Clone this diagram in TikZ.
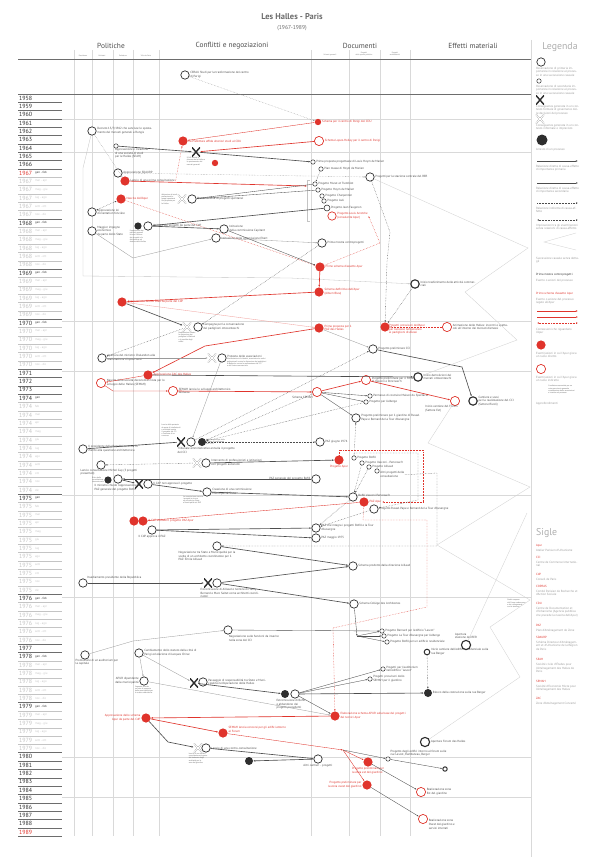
\documentclass[tikz,border=0pt]{standalone}
\usepackage{fontspec}
\setmainfont{PT Sans}
\usepackage{tikz}
\usetikzlibrary{arrows.meta,positioning,calc}
\definecolor{hInk}{HTML}{2E2E2E}
\definecolor{hRed}{HTML}{E0342C}
\definecolor{hGrid}{HTML}{D9D9D9}
\definecolor{hGray}{HTML}{9A9A9A}
\definecolor{hLight}{HTML}{C4C4C4}
\definecolor{hTitle}{HTML}{6B6B6B}
\newcommand\hlfont{\fontsize{4.3}{5.1}\selectfont}
\newcommand\hnfont{\fontsize{2.7}{3.1}\selectfont}
\newcommand\bimestri{gen - feb,mar - apr,mag - giu,lug - ago,sett - ott,nov - dic}
\newcommand\mesi{gen,feb,mar,apr,mag,giu,lug,ago,sett,ott,nov,dic}
\tikzset{
  % Observation circles
  obs/.style={circle,draw=hInk,line width=1pt,fill=white,
    minimum size=0.42cm,inner sep=0pt},
  obsm/.style={obs,minimum size=0.3cm,line width=0.8pt},
  obss/.style={obs,minimum size=0.22cm,line width=0.7pt},
  obsb/.style={obs,line width=1.6pt},
  % Apur circles (filled = direct, open = indirect)
  rfull/.style={circle,fill=hRed,minimum size=0.46cm,inner sep=0pt},
  rfulls/.style={rfull,minimum size=0.32cm},
  ropen/.style={circle,draw=hRed,line width=1pt,fill=white,
    minimum size=0.46cm,inner sep=0pt},
  % Stop of a process
  stopc/.style={circle,fill=hInk,minimum size=0.4cm,inner sep=0pt},
  % Formal X and informal X
  xf/.style={minimum width=0.4cm,minimum height=0.46cm,inner sep=0pt,
    path picture={\draw[line width=2pt,hInk]
      (path picture bounding box.north west) -- (path picture bounding box.south east)
      (path picture bounding box.south west) -- (path picture bounding box.north east);}},
  xi/.style={minimum width=0.42cm,minimum height=0.46cm,inner sep=0pt,
    path picture={\draw[hInk!55,line width=0.35pt,double=white,double distance=1.3pt]
      (path picture bounding box.north west) -- (path picture bounding box.south east)
      (path picture bounding box.south west) -- (path picture bounding box.north east);}},
  % Texts
  lbl/.style={font=\hlfont,text=hInk!85,align=left,inner sep=1pt},
  rlbl/.style={lbl,text=hRed},
  note/.style={font=\hnfont,text=hInk!75,align=left,inner sep=0.5pt},
  legt/.style={font=\hlfont,text=hGray,align=left,inner sep=0pt,anchor=north west},
  hdr/.style={font=\fontsize{10.5}{11}\selectfont,text=hInk!85},
  subh/.style={font=\fontsize{2.6}{3}\selectfont,text=hInk!70,align=center,inner sep=0pt},
  big/.style={font=\fontsize{14}{14}\selectfont,text=hGray!80,anchor=west,inner sep=0pt},
  yrnum/.style={font=\fontsize{8.5}{8.5}\selectfont,anchor=west,inner sep=0pt},
  yrmon/.style={font=\hlfont,anchor=west,inner sep=0pt},
  yrline/.style={hInk!70,line width=0.6pt},
  yrthin/.style={hLight,line width=0.35pt},
  % Arrows
  arr/.style={-{Latex[length=3pt,width=2.4pt]},line width=0.9pt,hInk!85},
  arrs/.style={-{Latex[length=2.6pt,width=2pt]},line width=0.5pt,hInk!85},
  darr/.style={arrs,dash pattern=on 0.8pt off 1.4pt},
  darrb/.style={darr,{Latex[length=2.6pt,width=2pt]}-{Latex[length=2.6pt,width=2pt]}},
  garr/.style={arrs,hGray,line width=0.45pt},
  gln/.style={hLight,line width=0.45pt},
  rarr/.style={arr,hRed},
  rarrs/.style={arrs,hRed},
  rdarr/.style={darr,hRed},
  zz/.style={hLight!80,line width=0.45pt},
}

\begin{document}
\begin{tikzpicture}[x=0.05cm,y=-0.05cm]
  \useasboundingbox (0,0) rectangle (600,857);
  \fill[white] (0,0) rectangle (600,857);

  % titles
  \node[font=\fontsize{12}{12}\selectfont\bfseries,text=hTitle] (ttl) at (292,17) {Les Halles - Paris};
  \node[font=\fontsize{8}{8}\selectfont,text=hTitle] (ttl2) at (292,28) {(1967-1989)};
  \node[hdr] (hPol) at (111,46) {Politiche};
  \node[hdr] (hCon) at (232,46) {Conflitti e negoziazioni};
  \node[hdr] (hDoc) at (360,46) {Documenti};
  \node[hdr] (hEff) at (473,46) {Effetti materiali};
  \node[big,anchor=center] (hLeg) at (560,47) {Legenda};
  \node[subh] (shPres) at (83,55.5) {Presidenza};
  \node[subh] (shMin) at (102,55.5) {Ministeri};
  \node[subh] (shPref) at (123,55.5) {Prefettura};
  \node[subh] (shVdP) at (146,55.5) {Ville de Paris};
  \node[subh] (shSch) at (330,55.5) {Schemi generali};
  \node[subh] (shPub) at (364,54) {Progetti\\dello spazio pubblico};
  \node[subh] (shArc) at (395,54) {Progetti\\architettonici};

  % grid
  \foreach \gx in {74,92,113,133,159,311,349,380,410}
    \draw[hGrid,line width=0.5pt] (\gx,50) -- (\gx,836);
  \foreach \gy in {119,152,321,371,495,597,757,797}
    \draw[hGrid,line width=0.6pt] (62,\gy) -- (531,\gy);
  \draw[hGrid,line width=0.5pt] (531,40) -- (531,857);
  \draw[hInk!70,line width=0.9pt] (18,59) -- (531,59);
  \draw[hInk!70,line width=0.6pt] (18,94) -- (531,94);

  % years
  \foreach \yr/\st in {1958/0,1959/1,1960/2,1961/3,1962/4,1963/5,1964/6,1965/7,1966/8,
      1971/33,1972/34,1973/35,1977/66,1980/79,1981/80,1982/81,1983/82,1984/83,
      1985/84,1986/85,1987/86,1988/87}{
    \pgfmathsetmacro\yy{98+\st*8.34}
    \node[yrnum,text=hInk] (y\yr) at (19,\yy) {\yr};
    \draw[yrline] (18,\yy+4.17) -- (62,\yy+4.17);
  }
  \node[yrnum,text=hRed] (y1989) at (19,832) {1989};
  \draw[yrline] (18,836.2) -- (62,836.2);
  \foreach \yr/\st in {1967/9,1968/15,1969/21,1970/27,1976/60,1978/67,1979/73}{
    \foreach \m [count=\k from 0] in \bimestri {
      \pgfmathsetmacro\yy{98+(\st+\k)*8.34}
      \ifnum\k=0 \def\yc{hInk}\def\mc{hInk}\else\def\yc{hLight}\def\mc{hLight}\fi
      \ifnum\yr=1967 \ifnum\k=0 \def\yc{hRed}\fi\fi
      \node[yrnum,text=\yc] (r\yr-\k) at (19,\yy) {\yr};
      \node[yrmon,text=\mc] (m\yr-\k) at (35,\yy) {\m};
      \ifnum\k=5 \draw[yrline] (18,\yy+4.17) -- (62,\yy+4.17);
      \else \draw[yrthin] (18,\yy+4.17) -- (62,\yy+4.17); \fi
    }
  }
  \foreach \yr/\st in {1974/36,1975/48}{
    \foreach \m [count=\k from 0] in \mesi {
      \pgfmathsetmacro\yy{98+(\st+\k)*8.34}
      \ifnum\k=0 \def\yc{hInk}\else\def\yc{hLight}\fi
      \node[yrnum,text=\yc] (r\yr-\k) at (19,\yy) {\yr};
      \node[yrmon,text=\yc] (m\yr-\k) at (35,\yy) {\m};
      \ifnum\k=11 \draw[yrline] (18,\yy+4.17) -- (62,\yy+4.17);
      \else \draw[yrthin] (18,\yy+4.17) -- (62,\yy+4.17); \fi
    }
  }

  % ---- politiche, conflitti 1958-1970
  \node[obs,label={[lbl]right:{CERAU Studi per la trasformazione del centro\\di Parigi}}] (cerau) at (185,75) {};
  \node[obs,label={[lbl]right:{Decreto 13/7/1962 che sancisce lo sposta-\\mento dei mercati generali a Rungis}}] (decreto) at (92,131) {};
  \node[obss,label={[lbl,anchor=north west]south west:{Approvazione e creazione\\di una società di studi\\per le Halles (SEAH)}}] (seah) at (116,146) {};
  \node[rfull,label={[rlbl]right:{La Prefettura affida ulteriori studi al CDU}}] (pref) at (183,141) {};
  \node[xf,label={[note,anchor=north]south:{Il CdP decide la\\chiusura de le Halles e\\lo spostamento dei\\mercati generali}}] (x1) at (196,152) {};
  \node[rfulls] (r1) at (215,163) {};
  \node[obs,label={[lbl]right:{Approvazione SDAURP}}] (sdaurp) at (118,173) {};
  \node[rfull,label={[lbl,name=lancioT]right:{Lancio di una prima consultazione}}] (lancio) at (125,181) {};
  \node[rfull,label={[rlbl]right:{Nascita dell'Apur}}] (apur) at (121,199) {};
  \node[obs,label={[lbl]right:{Approvazione loi\\d'orientation foncière}}] (loi) at (92,212) {};
  \node[xi,label={[note,anchor=east]west:{Attivazione di studi\\professionali e\\gruppi spontanei\\con proposte per\\le Halles}}] (xi1) at (182,199) {};
  \node[obs,label={[lbl]right:{Presentazione di progetti spontanei}}] (pres1) at (192,199) {};
  \node[obs,label={[lbl]right:{Maggior impegno\\economico\\da parte dello Stato}}] (maggior) at (92,231) {};
  \node[stopc,minimum size=0.36cm,label={[note,anchor=north]south:{L'opposizione dei\\mercati generali\\blocca l'utilizzo\\dei progetti e la\\discussione sul\\destino delle Halles}}] (stop1) at (138,226) {};
  \node[obs,label={[lbl]right:{Utilizzo dei progetti da parte del CdP}}] (util) at (148,226) {};
  \node[obs,label={[lbl]right:{Istituzione\\della commissione Capitant}}] (capitant) at (224,229) {};
  \node[obs,label={[lbl]right:{Istituzione della commissione Ebert}}] (ebert) at (216,238) {};

  % ---- documenti 1958-1970
  \node[rfulls,label={[rlbl]right:{Schema per il centro di Parigi del CDU}}] (cdu) at (318,122) {};
  \node[ropen,label={[rlbl]right:{Schema Lopez-Holley per il centro di Parigi}}] (lopez) at (319,141) {};
  \node[obss,label={[lbl]right:{Prima proposta progettuale di Louis Hoym de Marien}}] (p1) at (313,162) {};
  \node[obss,label={[lbl]right:{Plan masse di Hoym de Marien}}] (p2) at (321,169) {};
  \node[obs,label={[lbl]right:{Progetti per la stazione centrale del RER}}] (rer) at (370,177) {};
  \node[obss,label={[lbl]right:{Progetto Murat et Tremblot}}] (pm) at (315,184) {};
  \node[obss,label={[lbl]right:{Progetto Hoym de Marien}}] (ph) at (318,190) {};
  \node[obss,label={[lbl]right:{Progetto Charpentier}}] (pc) at (322,196) {};
  \node[obss,label={[lbl]right:{Progetto Auli}}] (pa) at (324,201) {};
  \node[obsm,label={[lbl]right:{Progetto Jean Faugeron}}] (pf) at (327,208) {};
  \node[ropen,minimum size=0.42cm,label={[rlbl,name=parrT]right:{Progetto Louis Arretche\\(consulente Apur)}}] (parr) at (332,216) {};
  \coordinate (brk) at (307,186);
  \node[obs,label={[lbl]right:{Prima mostra controprogetti}}] (mostra) at (322,243) {};
  \node[rfull,label={[rlbl]right:{Primo schema d'assetto Apur}}] (primo) at (320,267) {};
  \node[rfull,label={[rlbl]right:{Schema definitivo dell'Apur\\(Album Bleu)}}] (albumdef) at (319,292) {};
  \node[obsb,label={[lbl]right:{Inizio trasferimento delle attività commer-\\ciali}}] (trasf) at (415,284) {};
  \node[rfull,label={[rlbl]right:{Prima proposta per il\\PAZ des Halles}}] (paz1) at (319,328) {};
  \node[rfull,label={[rlbl,anchor=north west]north east:{Progetti provvisori dell'Apur\\per l'accesso temporaneo\\ai padiglioni dismessi}}] (provv) at (385,327) {};
  \node[ropen,label={[lbl]right:{Animazione delle Halles: incontri e spetta-\\coli all'interno dei mercati dismessi}}] (anim) at (447,327) {};
  \node[obs,label={[lbl]right:{Progetto preliminare CCI}}] (cci) at (373,349) {};
  \node[obsb,label={[lbl]right:{Inizio demolizioni dei\\mercati ottocenteschi}}] (demol) at (418,377) {};
  \node[obsb,label={[lbl]right:{Cantiere e scavi\\per la realizzazione del CCI\\(Settore Rivoli)}}] (scavi) at (473,401) {};

  % ---- 1970-1974
  \node[rfull,label={[rlbl]right:{Approvazione Album Bleu da parte del CdP}}] (album) at (122,302) {};
  \node[xi,label={[note,anchor=north]south:{Mobilitazione contro\\la distruzione dei\\padiglioni di Baltard\\e la vendita degli\\edifici}}] (xi2) at (187,327) {};
  \node[obs,label={[lbl]right:{Campagna per la conservazione\\dei padiglioni ottocenteschi}}] (camp) at (198,327) {};
  \node[obs,label={[lbl]right:{Apertura del ministro Chalandon alla\\realizzazione di spazi verdi}}] (chal) at (102,358) {};
  \node[xi] (xi3) at (212,358) {};
  \node[obs,label={[lbl,anchor=south west]east:{Protesta delle associazioni}},
    label={[note,anchor=north west]east:{Manifestazioni di cittadini, associazioni e ordini\\professionali contro la distruzione dei padiglioni\\di Baltard e contro la realizzazione del CCI\\e del Centro commerciale}}] (prot) at (222,358) {};
  \node[rfull,label={[rlbl]right:{Approvazione ZAC des Halles}}] (zac) at (148,375) {};
  \node[ropen,label={[lbl]right:{Nascita della società d'economia mista per lo\\sviluppo delle Halles (SEMAH)}}] (semah) at (101,383) {};
  \node[ropen,label={[lbl]right:{SEMAH lancia lo sviluppo architettonico\\dell'area}}] (semahl) at (173,391) {};
  \node[ropen,label={[lbl,anchor=north east]south west:{Schema SEMAH}}] (semahs) at (317,392) {};
  \node[ropen,label={[lbl]right:{Progetto preliminare per il Forum\\di Vasconi e Pencreac'h}}] (forum) at (366,380) {};
  \node[ropen,label={[lbl,anchor=north east]south east:{Inizio cantiere del Forum\\(Settore Est)}}] (forumc) at (455,401) {};
  \node[obss,label={[lbl]right:{Permesso di costruire Maison du Spectacle}}] (perm) at (370,396) {};
  \node[obss,label={[lbl]right:{Progetto per l'albergo}}] (alb) at (366,402) {};
  \node[obs,label={[lbl]right:{Progetto preliminare per il giardino di Russel\\Pape e Bernard de la Tour d'Auvergne}}] (giard) at (356,418) {};
  \node[obs,label={[lbl]right:{PAZ giugno 1974}}] (paz74) at (320,442) {};
  \node[xf,label={[lbl,anchor=north west]south west:{Tribunale amministrativo annulla il progetto\\del CCI}},
    label={[note,anchor=south east]north:{Lancio della protesta\\da parte di intellettuali\\e architetti contro\\il progetto del CCI\\e l'assenza di un\\concorso}}] (x3) at (181,442) {};
  \node[obs] (trib) at (191,442) {};
  \node[stopc,label={[note]right:{Nessuna proroga della\\licenza di costruzione\\per il CCI}}] (stop2) at (202,442) {};
  \node[obs,label={[lbl]right:{Il presidente della Repubblica entra in\\merito alla questione architettonica}}] (pres) at (83,449) {};

  % ---- 1975-1976
  \node[xi] (xi4) at (197,463) {};
  \node[obs,label={[lbl]right:{Intervento di professionisti e istituzioni\\con progetti autonomi}}] (interv) at (206,463) {};
  \node[obs,label={[lbl,anchor=north west,xshift=-0.9cm]south west:{Lancio consultazione Michel Guy (3 progetti\\presentati)}}] (guy) at (101,465) {};
  \node[stopc,minimum size=0.36cm,label={[note,anchor=east]west:{Ritiro della\\consultazione\\internazionale}}] (stop3) at (108,480) {};
  \node[obs,label={[lbl,anchor=north]south:{Il ministro chiede l'approvazione del\\PAZ generale del progetto Bofill}}] (chiede) at (118,479) {};
  \node[xf] (x4) at (139,484) {};
  \node[obs,label={[lbl]right:{Il CdP non approva il progetto}}] (nonapp) at (148,484) {};
  \node[obs,label={[lbl]right:{Creazione di una commissione\\Municipalità-Stato}},
    label={[note,anchor=north east]south west:{La commissione esamina\\i progetti e ricerca\\un accordo tra Stato\\e Municipalità sul PAZ}}] (commis) at (207,492) {};
  \node[rfull] (escl1) at (134,521) {};
  \node[rfull,label={[rlbl]right:{Il CdP esclude il progetto PAZ Apur}}] (escl2) at (143,521) {};
  \node[obs,label={[lbl,anchor=north]south:{Il CdP approva il PAZ}}] (approva) at (152,530) {};
  \node[obs,label={[lbl,anchor=north,xshift=-0.5cm]south:{Negoziazione tra Stato e Municipalità per la\\scelta di un architetto coordinatore per il\\PAZ: Émile Aillaud}}] (negoz) at (217,546) {};
  \node[obs,label={[lbl,anchor=south west]north east:{Insediamento presidente della Repubblica}}] (insed) at (83,583) {};
  \node[xf,label={[lbl,anchor=north west,xshift=-0.2cm]south west:{Estromissione di Aillaud e nomina di Henry\\Bernard e Marc Saltet come architetti coordi-\\natori}}] (x5) at (208,583) {};
  \node[obs] (estr) at (217,583) {};

  \node[rfull,label={[rlbl,anchor=north]south:{Progetto Apur}}] (papur) at (339,460) {};
  \node[obss,label={[lbl]right:{Progetto Bofill}}] (pb1) at (354,458) {};
  \node[obss,label={[lbl]right:{Progetto Vasconi - Pencreac'h}}] (pb2) at (362,463) {};
  \node[obss,label={[lbl]right:{Progetto Aillaud}}] (pb3) at (369,467) {};
  \node[obss,label={[lbl,name=pb4T,anchor=north west]east:{Altri progetti della\\consultazione}}] (pb4) at (377,471) {};
  \node[obs,label={[lbl]left:{PAZ generale del progetto Bofill}}] (pazbof) at (316,479) {};
  \node[obs,label={[lbl,anchor=south west]east:{Bofill Vasconi Pencreac'h}}] (bvp) at (353,497) {};
  \node[rfull,label={[rlbl,name=pazapurT]right:{PAZ Apur}}] (pazapur) at (364,502) {};
  \node[obs,label={[lbl]right:{Progetto Russel Pape e Bernard de la Tour d'Auvergne}}] (rus) at (374,509) {};
  \node[obs,label={[lbl]right:{PAZ che integra i progetti Bofill e la Tour\\d'Auvergne}}] (pazint) at (316,528) {};
  \node[obs,label={[lbl]right:{PAZ maggio 1975}}] (paz75) at (316,538) {};
  \node[obs,label={[lbl]right:{Schema prodotto dalla direzione Aillaud}}] (aill) at (353,566) {};
  \node[obs,label={[lbl]right:{Schema Collège des Architectes}}] (coll) at (354,604) {};
  \coordinate (collj) at (357,636);

  % ---- 1977-1989
  \node[obs,label={[lbl,anchor=north west]south:{Negoziazione sulle funzioni da inserire\\nella zona del CCI}}] (funz) at (228,630) {};
  \node[obs,label={[lbl,anchor=north west,xshift=-0.35cm]south west:{Promozione di un auditorium per\\la capitale}}] (audit) at (85,655) {};
  \node[obs,label={[lbl]right:{Cambiamento dello statuto della città di\\Parigi ed elezione di Jacques Chirac}}] (statuto) at (139,653) {};
  \node[obs,label={[lbl,align=right]left:{APUR dipendente\\dalla municipalità}},
    label={[note,anchor=north]south:{L'agenzia diventa\\un ente di supporto\\della municipalità per\\le scelte urbanistiche}}] (apurdip) at (144,681) {};
  \node[xf] (x6) at (194,683) {};
  \node[obs,label={[lbl]right:{Passaggio di responsabilità tra Stato e Muni-\\cipalità nell'operazione delle Halles}}] (pass) at (203,682) {};
  \node[stopc] (stop4) at (285,694) {};
  \node[obs,label={[lbl,anchor=north,xshift=-0.2cm]south:{Estromissione di Bofill\\e abbandono dei\\progetti precedenti}}] (estrb) at (295,694) {};
  \node[rfull,label={[rlbl,align=right]left:{Approvazione dello schema\\Apur da parte del CdP}}] (appsch) at (146,718) {};
  \node[rfull,label={[rlbl,anchor=south west]east:{SEMAH lancia concorsi per gli edifici attorno\\al Forum}}] (conc) at (223,733) {};
  \node[xi,label={[note,anchor=north]south:{Lancio di una contro-\\consultazione da parte\\del sindacato degli\\architetti per la\\zona del giardino}}] (xi7) at (198,748) {};
  \node[obs,label={[lbl]right:{Lancio di una contro-consultazione}}] (contro) at (206,748) {};
  \node[stopc] (stop5) at (249,761) {};

  \node[obss,label={[lbl]right:{Progetto Bernard per l'edificio ``Lescot''}}] (lescot) at (382,631) {};
  \node[obss,label={[lbl]right:{Progetto La Tour d'Auvergne per l'albergo}}] (ltour) at (384,636) {};
  \node[obss,label={[lbl]right:{Progetto Bofill per un edificio residenziale}}] (bofres) at (387,642) {};
  \node[obss,line width=1.4pt,minimum size=0.28cm,label={[lbl]right:{Inizio cantiere dell'edificio residenziale sulla\\rue Berger}}] (berger) at (427,652) {};
  \node[obsb,minimum size=0.46cm,label={[lbl,anchor=south]north:{Apertura\\stazione del RER}}] (rerap) at (466,645) {};
  \node[note,anchor=north west] (rerNote) at (507,599) {Studio sospeso\\del Forum sotterraneo\\e dei collegamenti\\con la stazione};
  \node[obss,label={[lbl]right:{Progetti per l'auditorium\\nell'edificio ``Lescot''}}] (auditp) at (383,669) {};
  \node[obss,label={[lbl]right:{Progetti provvisori dello\\SEMAH per il giardino}}] (provgi) at (370,679) {};
  \node[stopc,label={[lbl]right:{Blocco della costruzione sulla rue Berger}}] (blocco) at (428,693) {};
  \node[rfull,label={[rlbl]right:{Elaborazione schema APUR sulla base dei progetti\\dei tecnici Apur}}] (elab) at (335,716) {};
  \node[obsb,minimum size=0.46cm,label={[lbl]right:{Apertura Forum des Halles}}] (fdh) at (425,742) {};
  \node[obs,label={[lbl,anchor=north]south:{Altri cantieri - progetti}}] (altri) at (318,759) {};
  \coordinate (fork) at (343,750);
  \node[obss,label={[lbl,anchor=south west]north east:{Progetto degli edifici intorno al forum sulle\\rue Lescot, Rambuteau, Berger}}] (edif) at (388,759) {};
  \node[obss,line width=1.4pt] (edifc) at (445,769) {};
  \node[rfull,label={[rlbl,anchor=north]south:{Progetto preliminare per\\la zona est del giardino}}] (zest) at (368,762) {};
  \node[rfull,label={[rlbl,align=right]left:{Progetto preliminare per\\la zona ovest del giardino}}] (zovest) at (367,785) {};
  \node[ropen,label={[lbl]right:{Realizzazione zona\\Est del giardino}}] (rest) at (421,792) {};
  \node[ropen,label={[lbl,anchor=north west]east:{Realizzazione zona\\Ovest del giardino e\\servizi interrati}}] (rovest) at (423,819) {};

  % ---- connectors
  \draw[gln] (310,180) -- (307,180) -- (307,221) -- (310,221);
  \draw[darr,hGray] (cerau) -- (cdu);
  \draw[rarrs] (cdu) -- (pref);
  \draw[rarr] (lopez) -- (x1);
  \draw[arr] (seah) -- (x1);
  \draw[arr] (x1) -- (p1);
  \draw[darr,hGray] (decreto) -- (lancio);
  \draw[gln,-{Latex[length=2.6pt,width=2pt]}] (decreto) -- (83,168) -- (83,276) -- (290,278) -- (trasf);
  \draw[rdarr] (lancioT.east) -- (pref);
  \draw[rarr] (lancio) -- (brk);
  \draw[darr,hGray] (sdaurp) -- (rer);
  \draw[darrb] (loi) -- (apur);
  \draw[rdarr] (apur) -- (primo);
  \draw[arrs] (pm) -- (pres1);
  \draw[arrs] (ph) -- (pres1);
  \draw[arr] (pf) -- (util);
  \draw[arr] (util) -- (capitant);
  \draw[garr] (maggior) -- (133,258) -- (ebert);
  \draw[arrs] (capitant) -- (primo);
  \draw[garr] (ebert) -- (mostra);
  \draw[darr] (p2) -- (pm);
  \draw[darr] (rer) -- (390,232) -- (387,262) -- (provv);
  \draw[rdarr] (primo) -- (380,243) -- (parrT.east);
  \draw[darr] (mostra) -- (camp);
  \draw[rarr] (primo) -- (albumdef);
  \draw[rarr] (albumdef) -- (album);
  \draw[rarrs,hRed!45] (album) -- (paz1);
  \draw[arr] (album) -- (xi2);
  \draw[rarr] (paz1) -- (205,346) -- (zac);
  \draw[darr] (xi2) -- (chal);
  \draw[garr] (chal) -- (xi3);
  \draw[garr] (prot) -- (trib);
  \draw[arr] (zac) -- (demol);
  \draw[rarrs] (zac) -- (semah);
  \draw[rarrs] (semah) -- (113,391) -- (semahl);
  \draw[rarr] (semahl) -- (semahs);
  \draw[rarr] (semahs) -- (forum);
  \draw[rarr] (forum) -- (forumc);
  \draw[arrs] (semahs) -- (perm);
  \draw[arrs] (semahs) -- (alb);
  \draw[arrs] (semahs) -- (giard);
  \draw[darr] (semahs) -- (stop2);
  \draw[darr] (alb) -- (stop2);
  \draw[darr] (trib) -- (cci);
  \draw[arr] (x3) -- (pres);
  \draw[garr] (paz1) -- (cci);
  \draw[arr] (cci) -- (462,367) -- (scavi);
  \draw[darr] (trasf) -- (provv);
  \draw[rdarr] (anim) -- (provv);
  \draw[darr] (pb1) -- (giard);
  \draw[darr] (stop2) -- (paz74);
  \draw[rdarr] (papur) -- (339,450) -- (423,450) -- (423,502) -- (pazapurT.east);
  \draw[darr] (pb1) -- (354,453) -- (418,453) -- (418,500) -- (rus);
  \draw[darr] (pb4T.east) -- (437,473) -- (437,546) -- (negoz);
  \draw[darr] (pb2) -- (bvp);
  \draw[darr] (pb3) -- (bvp);
  \draw[darr] (bvp) -- (pazint);
  \draw[darr] (rus) -- (pazint);
  \draw[rarrs] (pazapur) -- (escl2);
  \draw[rdarr] (pazapur) -- (363,520) -- (427,520) -- (427,607) -- (333,628) -- (elab);
  \draw[darr] (xi4) -- (guy);
  \draw[arr] (interv) -- (papur);
  \draw[arr] (chiede) -- (x4);
  \draw[arr] (nonapp) -- (commis);
  \draw[arr] (commis) -- (bvp);
  \draw[arr] (approva) -- (pazint);
  \draw[arr] (approva) -- (paz75);
  \draw[arr] (pazbof) -- (chiede);
  \draw[arr] (negoz) -- (aill);
  \draw[arr] (estr) -- (aill);
  \draw[arr] (estr) -- (coll);
  \draw[arr] (insed) -- (x5);
  \draw[arrs] (coll) -- (collj);
  \draw[arrs] (collj) -- (lescot);
  \draw[arrs] (collj) -- (ltour);
  \draw[arrs] (collj) -- (bofres);
  \draw[garr] (audit) -- (133,641) -- (funz);
  \draw[arrs] (funz) -- (lescot);
  \draw[garr] (statuto) -- (x6);
  \draw[garr] (statuto) -- (apurdip);
  \draw[arr] (x6) -- (stop4);
  \draw[arrs] (estrb) -- (auditp);
  \draw[arrs] (estrb) -- (provgi);
  \draw[arr] (estrb) -- (blocco);
  \draw[arrs] (estrb) -- (elab);
  \draw[garr] (apurdip) -- (elab);
  \draw[rarr] (elab) -- (appsch);
  \draw[rarr] (appsch) -- (conc);
  \draw[arr] (appsch) -- (168,742) -- (xi7);
  \draw[rarrs] (conc) -- (fork);
  \draw[rarrs] (fork) -- (zest);
  \draw[rarrs] (fork) -- (zovest);
  \draw[arrs] (fork) -- (edif);
  \draw[arrs] (edif) -- (edifc);
  \draw[arrs] (zest) -- (rest);
  \draw[arrs] (zovest) -- (rovest);
  \draw[arr] (contro) -- (altri);
  \draw[arr] (altri) -- (stop5);
  \draw[darr] (berger) -- (blocco);

  % successions without details
  \draw[zz] (rer) -- (528,248) -- (465,292) -- (517,340) -- (demol);
  \draw[zz] (forumc) -- (428,443) -- (530,487) -- (437,545) -- (530,600) -- (490,627) -- (520,677) -- (fdh);
  \draw[zz] (rerap) -- (527,513);

  % ---- legenda
  \node[obs] (lg1) at (541,62) {};
  \node[legt] (lg1t) at (536,67) {Osservazione di primaria im-\\portanza in relazione al proces-\\so in una successione causale};
  \node[obss] (lg2) at (539,81) {};
  \node[legt] (lg2t) at (536,85) {Osservazione di secondaria im-\\portanza in relazione al proces-\\so in una successione causale};
  \node[xf] (lg3) at (540,100) {};
  \node[legt] (lg3t) at (536,105) {Conseguenza generata in un con-\\testo formale di governance del-\\le decisioni del processo};
  \node[xi] (lg4) at (540,119) {};
  \node[legt] (lg4t) at (536,124) {Conseguenza generata in un con-\\testo informale o imprevisto};
  \node[stopc,minimum width=0.55cm,minimum height=0.45cm] (lg5) at (542,140) {};
  \node[legt] (lg5t) at (536,148) {Arresto di un processo};
  \coordinate (lga1) at (537,161); \coordinate (lgb1) at (578,161);
  \draw[arr] (lga1) -- (lgb1);
  \node[legt] (lg6t) at (536,165) {Relazione diretta di causa-effetto\\di importanza primaria};
  \coordinate (lga2) at (537,183); \coordinate (lgb2) at (578,183);
  \draw[arrs] (lga2) -- (lgb2);
  \node[legt] (lg7t) at (536,187) {Relazione diretta di causa-effetto\\di importanza secondaria};
  \coordinate (lga3) at (537,203); \coordinate (lgb3) at (578,203);
  \draw[darr,line width=0.7pt] (lga3) -- (lgb3);
  \node[legt] (lg8t) at (536,207) {Relazione indiretta di causa-ef-\\fetto};
  \coordinate (lga4) at (537,220); \coordinate (lgb4) at (578,220);
  \draw[darrb,line width=0.9pt] (lga4) -- (lgb4);
  \node[legt] (lg9t) at (536,224) {Implicazioni tra gli eventi/azioni\\senza relazioni di causa-effetto};
  \coordinate (lgz1) at (576,233); \coordinate (lgz2) at (544,242); \coordinate (lgz3) at (576,250);
  \draw[zz] (lgz1) -- (lgz2) -- (lgz3);
  \node[legt] (lg10t) at (536,257) {Successione causale senza detta-\\gli};
  \node[legt,text=hInk] (lg11) at (536,273) {Prima mostra controprogetti};
  \node[legt] (lg11t) at (536,279) {Evento o azioni del processo};
  \node[legt,text=hRed] (lg12) at (536,292) {Primo schema d'assetto Apur};
  \node[legt] (lg12t) at (536,298) {Evento o azione del processo\\legato all'Apur};
  \coordinate (lgr1) at (537,311); \coordinate (lgs1) at (578,311);
  \draw[rarr] (lgr1) -- (lgs1);
  \coordinate (lgr2) at (537,317); \coordinate (lgs2) at (578,317);
  \draw[rarrs] (lgr2) -- (lgs2);
  \coordinate (lgr3) at (537,323); \coordinate (lgs3) at (578,323);
  \draw[rdarr,{Latex[length=2.6pt,width=2pt]}-{Latex[length=2.6pt,width=2pt]},line width=0.8pt] (lgr3) -- (lgs3);
  \node[legt] (lg13t) at (536,328) {Connessioni che riguardano\\l'Apur};
  \node[rfull] (lg14) at (541,345) {};
  \node[legt] (lg14t) at (536,352) {Eventi/azioni in cui l'Apur gioca\\un ruolo diretto};
  \node[ropen] (lg15) at (541,369) {};
  \node[legt] (lg15t) at (536,376) {Eventi/azioni in cui l'Apur gioca\\un ruolo indiretto};
  \node[note,anchor=north west] (lg16) at (548,385) {Condizione essenziale per un\\voto provvisorio generale\\consultazione delle associazioni\\e inserita nel processo};
  \node[legt] (lg16t) at (536,402) {Approfondimenti};

  % ---- sigle
  \node[big] (sgl) at (536,533) {Sigle};
  \node[legt,text=hRed] (sApur) at (536,544) {Apur};
  \node[legt] (dApur) at (536,549) {Atelier Parisien d'Urbanisme};
  \node[legt,text=hRed] (sCCI) at (536,556) {CCI};
  \node[legt] (dCCI) at (536,561) {Centre de Commerce Internatio-\\nal};
  \node[legt,text=hRed] (sCdP) at (536,573) {CdP};
  \node[legt] (dCdP) at (536,578) {Conseil de Paris};
  \node[legt,text=hRed] (sCOP) at (536,585) {COPRAS};
  \node[legt] (dCOP) at (536,590) {Comité Parisien de Recherche et\\d'Action Sociale};
  \node[legt,text=hRed] (sCDU) at (536,602) {CDU};
  \node[legt] (dCDU) at (536,607) {Centre de Documentation et\\d'Urbanisme (Agenzia pubblica\\che precede la nascita dell'Apur)};
  \node[legt,text=hRed] (sPAZ) at (536,624) {PAZ};
  \node[legt] (dPAZ) at (536,629) {Plan d'Aménagement de Zone};
  \node[legt,text=hRed] (sSDA) at (536,636) {SDAURP};
  \node[legt] (dSDA) at (536,641) {Schéma Directeur d'Aménagem-\\ent et d'Urbanisme de la Région\\de Paris};
  \node[legt,text=hRed] (sSEAH) at (536,658) {SEAH};
  \node[legt] (dSEAH) at (536,663) {Société civile d'Études pour\\l'Aménagement des Halles de\\Paris};
  \node[legt,text=hRed] (sSEMAH) at (536,680) {SEMAH};
  \node[legt] (dSEMAH) at (536,685) {Société d'Economie Mixte pour\\l'Aménagement des Halles};
  \node[legt,text=hRed] (sZAC) at (536,697) {ZAC};
  \node[legt] (dZAC) at (536,702) {Zone d'Aménagement Concerté};
\end{tikzpicture}
\end{document}
